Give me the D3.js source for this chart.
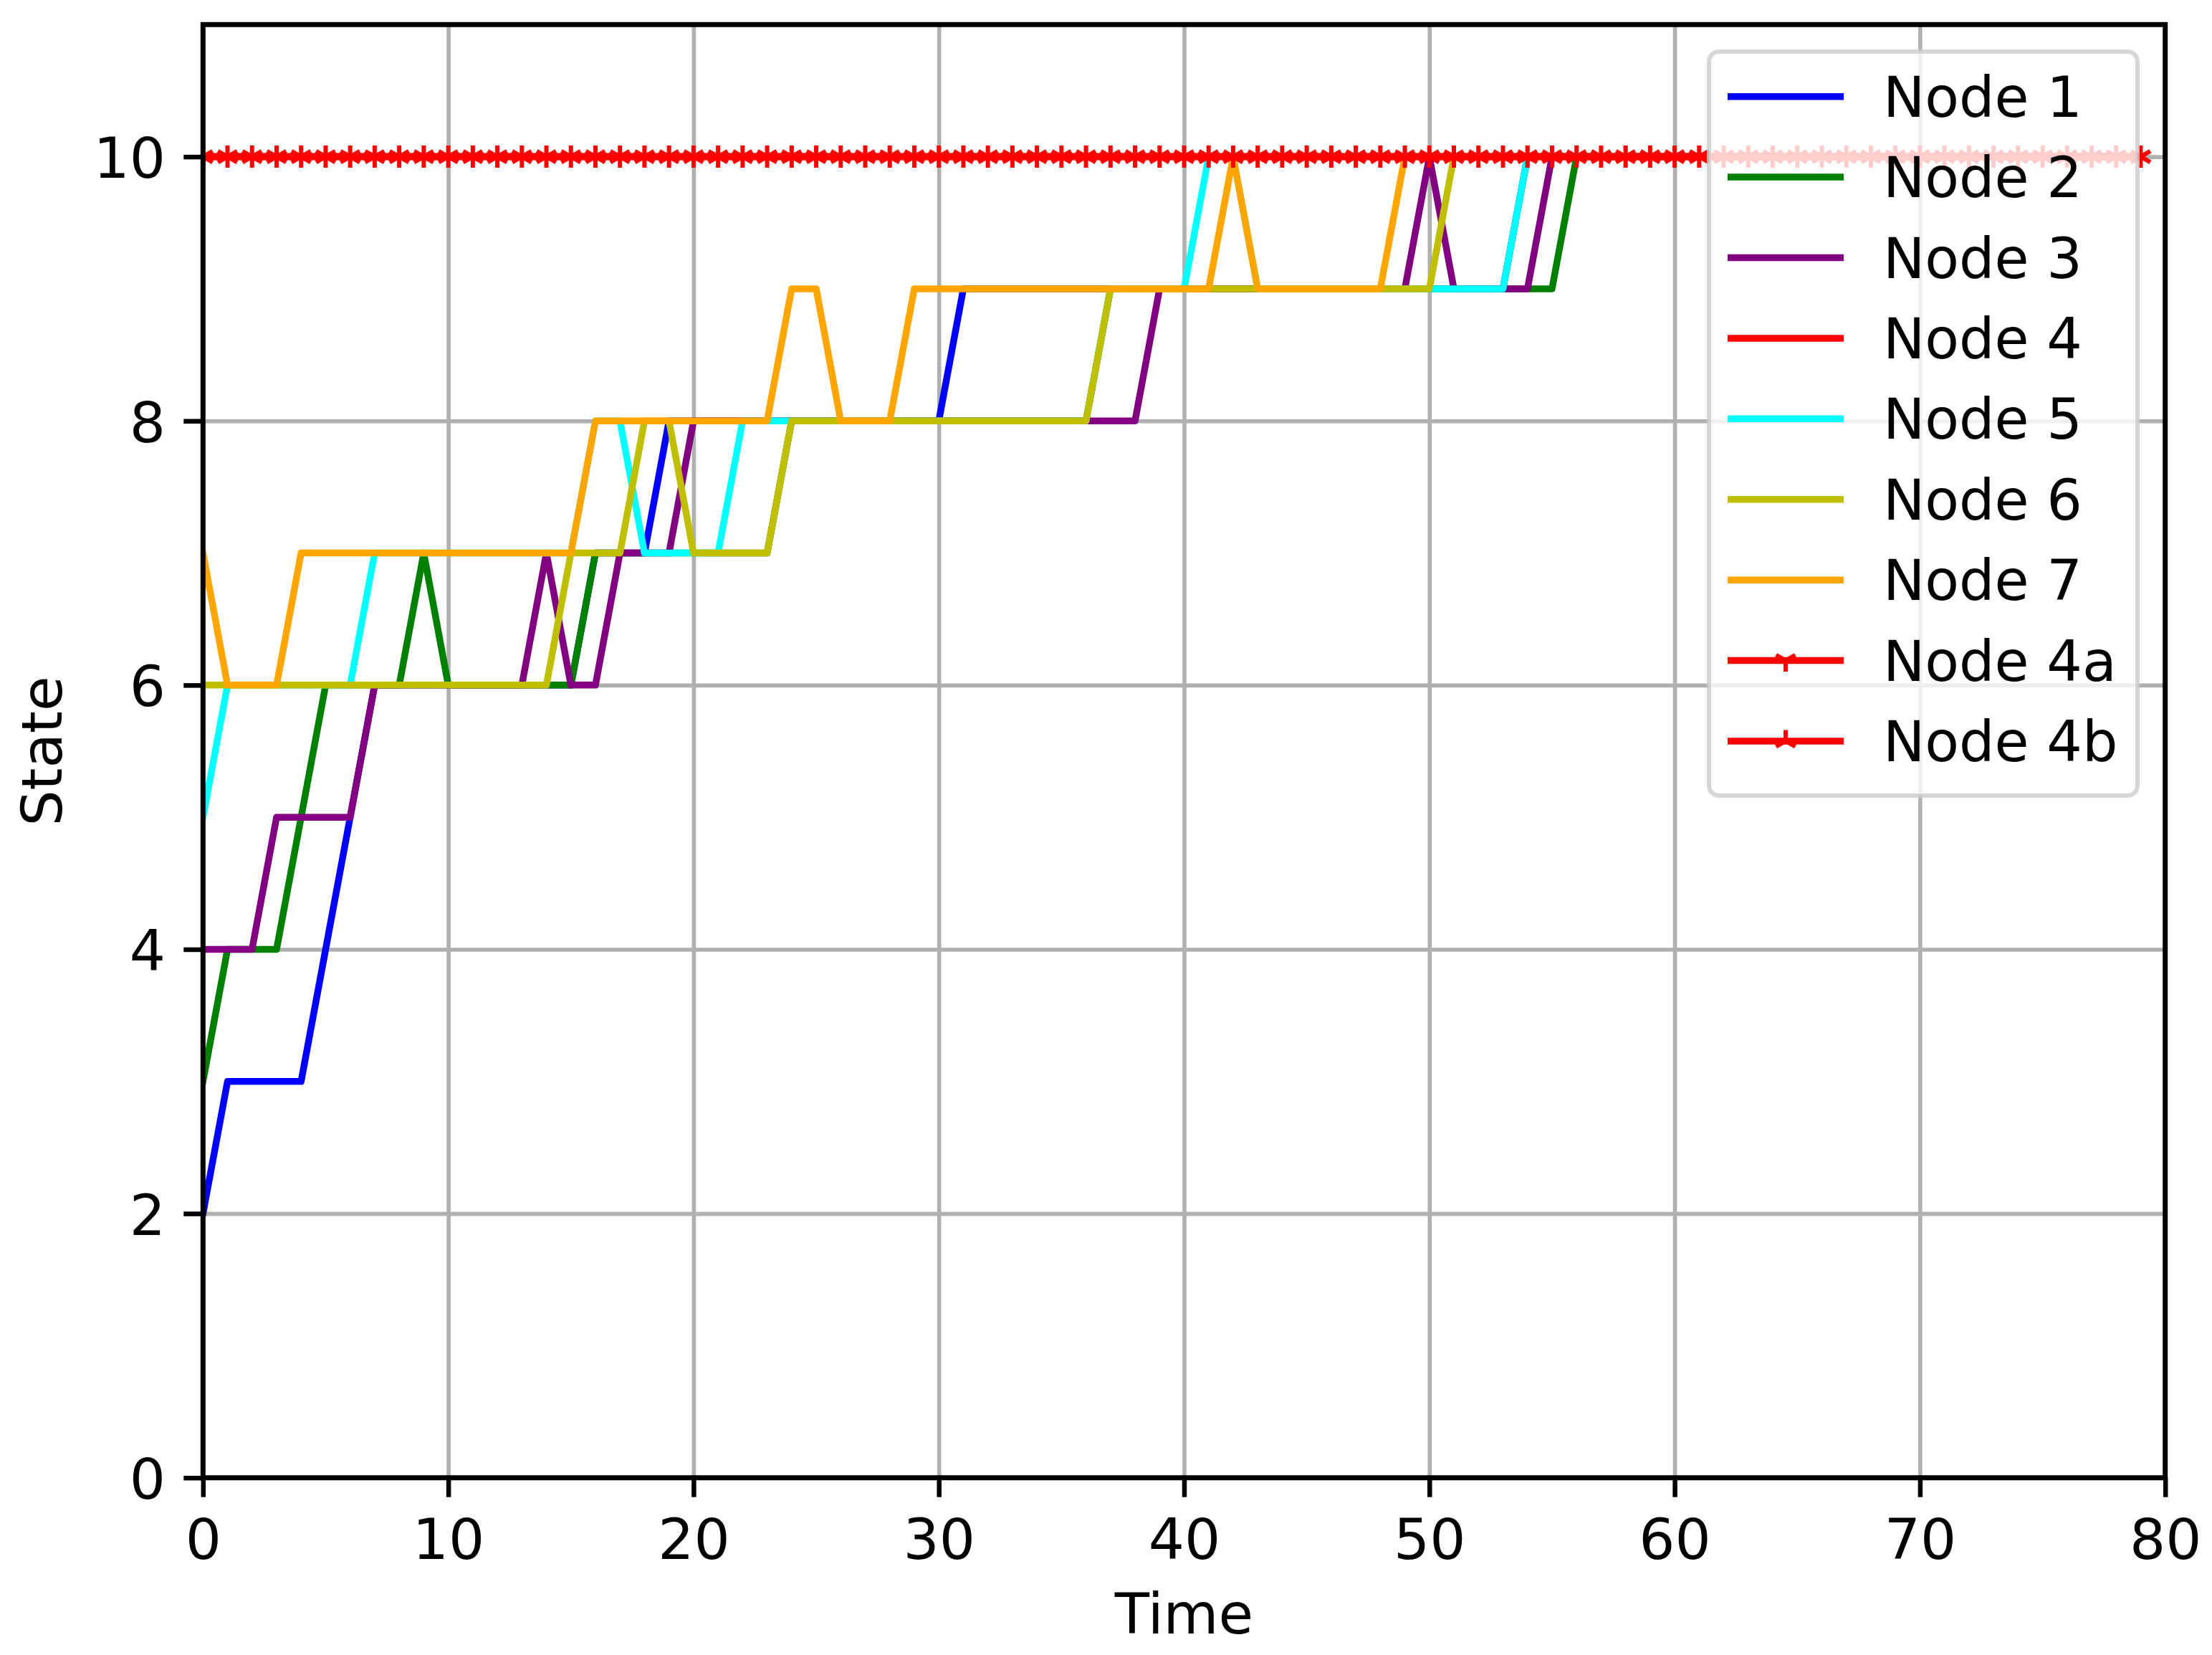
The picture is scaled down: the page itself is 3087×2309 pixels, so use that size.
<!DOCTYPE html>
<html>
<head>
<meta charset="utf-8">
<script src="https://cdn.jsdelivr.net/npm/d3@7"></script>
<style>
  html, body { margin: 0; padding: 0; background: #ffffff; }
  svg { display: block; }
  text { font-family: "DejaVu Sans", sans-serif; }
</style>
</head>
<body>
<svg id="chart" width="3087" height="2309"></svg>
<script>
// ---- data (time steps 0..79) ----
const seriesNames = ["Node 1", "Node 2", "Node 3", "Node 4", "Node 5", "Node 6", "Node 7", "Node 4a", "Node 4b"];
const seriesColors = ["#0000ff", "#008000", "#800080", "#ff0000", "#00ffff", "#bfbf00", "#ffa500", "#ff0000", "#ff0000"];
const xTicks = [0, 10, 20, 30, 40, 50, 60, 70, 80];
const yTicks = [0, 2, 4, 6, 8, 10];

const node1 = [2,3,3,3,3,4,5,6,6,6, 6,6,6,6,6,6,7,7,7,8, 8,8,8,8,8,8,8,8,8,8, 8,9,9,9,9,9,9,9,9,9,
               9,9,9,9,9,9,9,9,9,9, 9,9,9,9,10,10,10,10,10,10, 10,10,10,10,10,10,10,10,10,10, 10,10,10,10,10,10,10,10,10,10];
const node2 = [3,4,4,4,5,6,6,6,6,7, 6,6,6,6,6,6,7,7,7,7, 7,7,7,7,8,8,8,8,8,8, 8,8,8,8,8,8,8,9,9,9,
               9,9,9,9,9,9,9,9,9,9, 9,9,9,9,9,9,10,10,10,10, 10,10,10,10,10,10,10,10,10,10, 10,10,10,10,10,10,10,10,10,10];
const node3 = [4,4,4,5,5,5,5,6,6,6, 6,6,6,6,7,6,6,7,7,7, 8,8,8,8,8,8,8,8,8,8, 8,8,8,8,8,8,8,8,8,9,
               9,9,9,9,9,9,9,9,9,9, 10,9,9,9,9,10,10,10,10,10, 10,10,10,10,10,10,10,10,10,10, 10,10,10,10,10,10,10,10,10,10];
const node4 = [10,10,10,10,10,10,10,10,10,10, 10,10,10,10,10,10,10,10,10,10, 10,10,10,10,10,10,10,10,10,10, 10,10,10,10,10,10,10,10,10,10,
               10,10,10,10,10,10,10,10,10,10, 10,10,10,10,10,10,10,10,10,10, 10,10,10,10,10,10,10,10,10,10, 10,10,10,10,10,10,10,10,10,10];
const node5 = [5,6,6,6,6,6,6,7,7,7, 7,7,7,7,7,7,8,8,7,7, 7,7,8,8,8,8,8,8,8,8, 8,8,8,8,8,8,8,9,9,9,
               9,10,10,9,9,9,9,9,9,9, 9,9,9,9,10,10,10,10,10,10, 10,10,10,10,10,10,10,10,10,10, 10,10,10,10,10,10,10,10,10,10];
const node6 = [6,6,6,6,6,6,6,6,6,6, 6,6,6,6,6,7,7,7,8,8, 7,7,7,7,8,8,8,8,8,8, 8,8,8,8,8,8,8,9,9,9,
               9,9,9,9,9,9,9,9,9,9, 9,10,10,10,10,10,10,10,10,10, 10,10,10,10,10,10,10,10,10,10, 10,10,10,10,10,10,10,10,10,10];
const node7 = [7,6,6,6,7,7,7,7,7,7, 7,7,7,7,7,7,8,8,8,8, 8,8,8,8,9,9,8,8,8,9, 9,9,9,9,9,9,9,9,9,9,
               9,9,10,9,9,9,9,9,9,10, 10,10,10,10,10,10,10,10,10,10, 10,10,10,10,10,10,10,10,10,10, 10,10,10,10,10,10,10,10,10,10];
const node4a = [10,10,10,10,10,10,10,10,10,10, 10,10,10,10,10,10,10,10,10,10, 10,10,10,10,10,10,10,10,10,10, 10,10,10,10,10,10,10,10,10,10,
                10,10,10,10,10,10,10,10,10,10, 10,10,10,10,10,10,10,10,10,10, 10,10,10,10,10,10,10,10,10,10, 10,10,10,10,10,10,10,10,10,10];
const node4b = [10,10,10,10,10,10,10,10,10,10, 10,10,10,10,10,10,10,10,10,10, 10,10,10,10,10,10,10,10,10,10, 10,10,10,10,10,10,10,10,10,10,
                10,10,10,10,10,10,10,10,10,10, 10,10,10,10,10,10,10,10,10,10, 10,10,10,10,10,10,10,10,10,10, 10,10,10,10,10,10,10,10,10,10];
const seriesValues = [node1, node2, node3, node4, node5, node6, node7, node4a, node4b];
const seriesMarkers = [null, null, null, null, null, null, null, "tri_down", "tri_up"];

// ---- layout ----
const L = 283.3, R = 3021.7, T = 34.3, B = 2061.7;
const FS = 79;
const LW = 9.5;
const svg = d3.select("#chart");

const x = d3.scaleLinear().domain([0, 80]).range([L, R]);
const y = d3.scaleLinear().domain([0, 11]).range([B, T]);

svg.append("defs").append("clipPath").attr("id", "plotclip")
  .append("rect").attr("x", L).attr("y", T).attr("width", R - L).attr("height", B - T);

// grid
const grid = svg.append("g");
grid.append("g").attr("transform", `translate(0,${B})`)
  .call(d3.axisBottom(x).tickValues(xTicks).tickSize(-(B - T)).tickFormat(""))
  .call(g => g.select(".domain").remove())
  .call(g => g.selectAll("line").attr("stroke", "#b0b0b0").attr("stroke-width", 5.6));
grid.append("g").attr("transform", `translate(${L},0)`)
  .call(d3.axisLeft(y).tickValues(yTicks).tickSize(-(R - L)).tickFormat(""))
  .call(g => g.select(".domain").remove())
  .call(g => g.selectAll("line").attr("stroke", "#b0b0b0").attr("stroke-width", 5.6));

// lines
const line = d3.line().x((d, i) => x(i)).y(d => y(d));
const plot = svg.append("g").attr("clip-path", "url(#plotclip)");

function markerPath(type, r) {
  const h = 0.866 * r, v = 0.5 * r;
  if (type === "tri_down") return `M0,0L0,${r}M0,0L${-h},${-v}M0,0L${h},${-v}`;
  return `M0,0L0,${-r}M0,0L${-h},${v}M0,0L${h},${v}`;
}

seriesValues.forEach((vals, k) => {
  plot.append("path").datum(vals)
    .attr("d", line)
    .attr("fill", "none")
    .attr("stroke", seriesColors[k])
    .attr("stroke-width", LW)
    .attr("stroke-linejoin", "round")
    .attr("stroke-linecap", "square");
  if (seriesMarkers[k]) {
    plot.append("g").selectAll("path").data(vals).join("path")
      .attr("transform", (d, i) => `translate(${x(i)},${y(d)})`)
      .attr("d", markerPath(seriesMarkers[k], 15.5))
      .attr("fill", "none")
      .attr("stroke", seriesColors[k])
      .attr("stroke-width", 6);
  }
});

// spines
svg.append("rect").attr("x", L).attr("y", T).attr("width", R - L).attr("height", B - T)
  .attr("fill", "none").attr("stroke", "#000").attr("stroke-width", 7);

// axes ticks + labels
const xAxis = svg.append("g").attr("transform", `translate(0,${B})`)
  .call(d3.axisBottom(x).tickValues(xTicks).tickSize(27).tickPadding(0).tickFormat(d3.format("d")));
xAxis.select(".domain").remove();
xAxis.selectAll("line").attr("stroke", "#000").attr("stroke-width", 6.5);
xAxis.selectAll("text").attr("font-size", FS).attr("fill", "#000")
  .attr("dy", null).attr("y", 2175 - B).attr("font-family", "DejaVu Sans");

const yAxis = svg.append("g").attr("transform", `translate(${L},0)`)
  .call(d3.axisLeft(y).tickValues(yTicks).tickSize(27).tickPadding(0).tickFormat(d3.format("d")));
yAxis.select(".domain").remove();
yAxis.selectAll("line").attr("stroke", "#000").attr("stroke-width", 6.5);
yAxis.selectAll("text").attr("font-size", FS).attr("fill", "#000")
  .attr("dy", null).attr("x", 231 - L).attr("y", 29).attr("font-family", "DejaVu Sans");

// axis titles
svg.append("text").attr("x", (L + R) / 2).attr("y", 2279)
  .attr("text-anchor", "middle").attr("font-size", FS).text("Time");
svg.append("text").attr("transform", `translate(86,${(T + B) / 2}) rotate(-90)`)
  .attr("text-anchor", "middle").attr("font-size", FS).text("State");

// legend
const lg = svg.append("g");
lg.append("rect").attr("x", 2385).attr("y", 72).attr("width", 2983 - 2385).attr("height", 1110 - 72)
  .attr("rx", 14).attr("ry", 14)
  .attr("fill", "#ffffff").attr("fill-opacity", 0.8)
  .attr("stroke", "#cccccc").attr("stroke-opacity", 0.8).attr("stroke-width", 6);
const rowY = d3.scaleLinear().domain([0, 8]).range([134.7, 1034]);
seriesNames.forEach((name, k) => {
  const yy = rowY(k);
  lg.append("line").attr("x1", 2411).attr("x2", 2573).attr("y1", yy).attr("y2", yy)
    .attr("stroke", seriesColors[k]).attr("stroke-width", LW);
  if (seriesMarkers[k]) {
    lg.append("path").attr("transform", `translate(2492,${yy})`)
      .attr("d", markerPath(seriesMarkers[k], 15.5))
      .attr("fill", "none").attr("stroke", seriesColors[k]).attr("stroke-width", 6);
  }
  lg.append("text").attr("x", 2628).attr("y", yy + 28).attr("font-size", 78).text(name);
});
</script>
</body>
</html>
